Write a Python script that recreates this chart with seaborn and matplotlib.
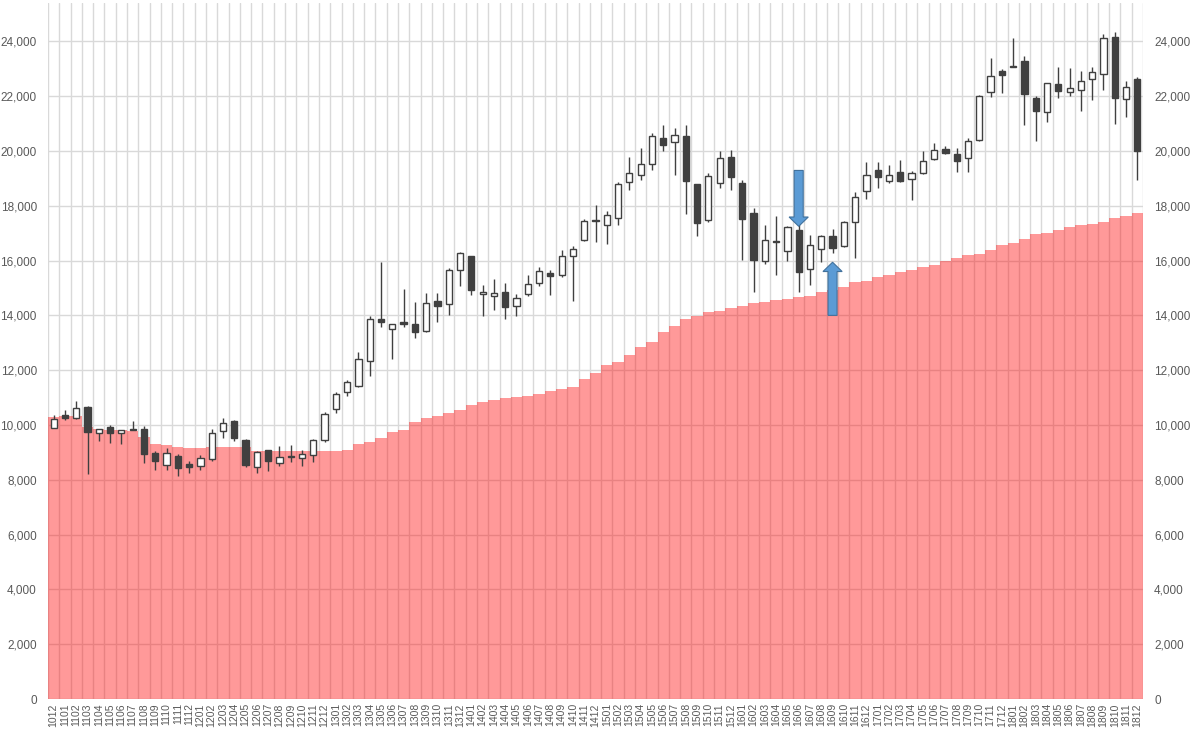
import matplotlib
matplotlib.use("Agg")
import matplotlib.pyplot as plt
import seaborn as sns
import pandas as pd
import numpy as np
from matplotlib.ticker import FixedLocator, FuncFormatter
from matplotlib.patches import FancyArrow

# ---------------- data ----------------
months = ["1012",
          "1101", "1102", "1103", "1104", "1105", "1106", "1107", "1108", "1109", "1110", "1111", "1112",
          "1201", "1202", "1203", "1204", "1205", "1206", "1207", "1208", "1209", "1210", "1211", "1212",
          "1301", "1302", "1303", "1304", "1305", "1306", "1307", "1308", "1309", "1310", "1311", "1312",
          "1401", "1402", "1403", "1404", "1405", "1406", "1407", "1408", "1409", "1410", "1411", "1412",
          "1501", "1502", "1503", "1504", "1505", "1506", "1507", "1508", "1509", "1510", "1511", "1512",
          "1601", "1602", "1603", "1604", "1605", "1606", "1607", "1608", "1609", "1610", "1611", "1612",
          "1701", "1702", "1703", "1704", "1705", "1706", "1707", "1708", "1709", "1710", "1711", "1712",
          "1801", "1802", "1803", "1804", "1805", "1806", "1807", "1808", "1809", "1810", "1811", "1812"]

opens = [9900,
         10350, 10240, 10670, 9710, 9940, 9690, 9870, 9870, 8990, 8540, 8860, 8560,
         8500, 8750, 9770, 10150, 9470, 8460, 9090, 8620, 8830, 8800, 8910, 9450,
         10600, 11190, 11430, 12350, 13860, 13520, 13750, 13670, 13430, 14520, 14400, 15660,
         16150, 14790, 14690, 14870, 14340, 14790, 15180, 15540, 15460, 16170, 16740, 17480,
         17300, 17540, 18880, 19119, 19530, 20460, 20310, 20550, 18790, 17490, 18830, 19790,
         18820, 17720, 16000, 16700, 16340, 17110, 15690, 16420, 16900, 16540, 17390, 18550,
         19300, 18910, 19240, 18990, 19180, 19700, 20070, 19900, 19750, 20400, 22150, 22910,
         23073, 23300, 21915, 21430, 22450, 22150, 22240, 22630, 22810, 24150, 21900, 22640]

highs = [10380,
         10560, 10880, 10700, 9870, 10010, 9830, 10140, 9980, 9050, 9150, 8930, 8700,
         8890, 9866, 10255, 10190, 9500, 9050, 9100, 9220, 9270, 9090, 9480, 10460,
         11200, 11640, 12650, 13990, 15942, 13700, 14953, 14470, 14820, 14810, 15730, 16320,
         16170, 15094, 15310, 15180, 14770, 15460, 15760, 15640, 16400, 16530, 17520, 18030,
         17820, 18880, 19778, 20100, 20650, 20953, 20850, 20946, 18800, 19180, 20012, 20043,
         18950, 17915, 17291, 17613, 17260, 17330, 16940, 16930, 17150, 17440, 18486, 19600,
         19615, 19500, 19668, 19280, 19990, 20300, 20190, 20120, 20460, 22060, 23383, 23000,
         24129, 23480, 22000, 22480, 23050, 23010, 22936, 23058, 24286, 24350, 22570, 22700]

lows = [9880,
        10170, 10220, 8227, 9400, 9350, 9320, 9800, 8620, 8360, 8340, 8135, 8260,
        8350, 8700, 9530, 9400, 8450, 8238, 8330, 8520, 8660, 8490, 8640, 9380,
        10430, 11040, 11400, 11805, 13560, 12415, 13590, 13190, 13400, 13750, 14030, 15090,
        14760, 13995, 14180, 13885, 13960, 14720, 15090, 14753, 15400, 14529, 16700, 16672,
        16592, 17300, 18580, 18936, 19290, 20010, 19115, 17714, 16901, 17390, 18640, 18584,
        16017, 14865, 15872, 15471, 15975, 14864, 15106, 15933, 16280, 16500, 16112, 18240,
        18650, 18830, 18880, 18224, 19150, 19680, 19900, 19240, 19250, 20350, 21970, 22100,
        23060, 20950, 20347, 21060, 21930, 22000, 21460, 21878, 22210, 20971, 21240, 18949]

closes = [10229,
          10238, 10624, 9755, 9850, 9694, 9816, 9833, 8955, 8700, 8988, 8435, 8455,
          8802, 9723, 10084, 9521, 8543, 9007, 8695, 8840, 8870, 8928, 9446, 10395,
          11139, 11559, 12398, 13861, 13775, 13677, 13668, 13389, 14456, 14328, 15662, 16291,
          14915, 14841, 14828, 14304, 14632, 15162, 15621, 15425, 16174, 16414, 17460, 17451,
          17674, 18798, 19207, 19520, 20563, 20236, 20585, 18890, 17388, 19083, 19747, 19034,
          17518, 16027, 16759, 16666, 17235, 15576, 16569, 16887, 16450, 17425, 18308, 19114,
          19041, 19119, 18909, 19197, 19651, 20033, 19925, 19646, 20356, 22012, 22725, 22765,
          23098, 22068, 21454, 22468, 22202, 22305, 22554, 22865, 24120, 21920, 22351, 20015]

level = [10290,
         10310, 10330, 9920, 9860, 9830, 9800, 9790, 9560, 9320, 9260, 9190, 9160,
         9160, 9180, 9200, 9200, 9180, 9050, 9050, 9040, 9040, 9040, 9045, 9050,
         9055, 9070, 9310, 9370, 9510, 9730, 9830, 10110, 10240, 10340, 10420, 10560,
         10740, 10840, 10905, 10990, 11030, 11075, 11130, 11230, 11300, 11390, 11665, 11880,
         12190, 12310, 12550, 12860, 13040, 13390, 13620, 13870, 13963, 14109, 14170, 14255,
         14352, 14449, 14498, 14550, 14595, 14656, 14717, 14838, 14936, 15021, 15203, 15264,
         15386, 15471, 15568, 15665, 15750, 15848, 15990, 16110, 16188, 16248, 16370, 16565,
         16650, 16796, 16954, 17015, 17112, 17233, 17282, 17318, 17416, 17537, 17622, 17720]

y_ticks = [0, 2000, 4000, 6000, 8000, 10000, 12000, 14000, 16000, 18000, 20000, 22000, 24000]

# annotation arrows: (month, tail value, tip value)
arrow_down = ("1606", 19290, 17250)
arrow_up = ("1609", 14000, 15940)

# ---------------- styling ----------------
sns.set_theme(style="white")
plt.rcParams['font.family'] = ['Liberation Sans', 'DejaVu Sans']

TXT = "#595959"
GRID = "#D9D9D9"
CANDLE_EDGE = "#404040"

fig = plt.figure(figsize=(12, 7.34), dpi=100)
ax = fig.add_axes([48 / 1200, 1 - 699 / 734, (1143 - 48) / 1200, (699 - 3) / 734])

df = pd.DataFrame({"month": months, "level": level})
sns.barplot(data=df, x="month", y="level", width=1.0, color=(1.0, 0.0, 0.0),
            alpha=0.40, saturation=1, linewidth=0, ax=ax, zorder=2)

xpos = np.arange(len(months))
o = np.array(opens, dtype=float)
h = np.array(highs, dtype=float)
l = np.array(lows, dtype=float)
c = np.array(closes, dtype=float)

ax.vlines(xpos, l, h, color=CANDLE_EDGE, linewidth=1.0, zorder=3)
body_bottom = np.minimum(o, c)
body_h = np.maximum(np.abs(c - o), 25)
face = ["white" if cc >= oo else CANDLE_EDGE for oo, cc in zip(o, c)]
ax.bar(xpos, body_h, bottom=body_bottom, width=0.55, color=face,
       edgecolor=CANDLE_EDGE, linewidth=1.0, zorder=4)

# arrows
for name, y0, y1 in (arrow_down, arrow_up):
    xi = months.index(name)
    ax.add_patch(FancyArrow(xi, y0, 0, y1 - y0, width=0.8, head_width=1.7,
                            head_length=340, length_includes_head=True,
                            facecolor="#5B9BD5", edgecolor="#41719C",
                            linewidth=0.8, zorder=6))

ax.set_xlim(-0.5, len(months) - 0.5)
ax.set_ylim(0, 25400)
ax.set_yticks(y_ticks)
fmt = FuncFormatter(lambda v, p: f"{v:,.0f}")
ax.yaxis.set_major_formatter(fmt)
ax.xaxis.set_minor_locator(FixedLocator(np.arange(-0.5, len(months), 1.0)))
ax.grid(which="minor", axis="x", color=GRID, linewidth=1.0, zorder=0)
ax.grid(which="major", axis="y", color=GRID, linewidth=1.0, zorder=0)
ax.set_axisbelow(True)
ax.set_xlabel("")
ax.set_ylabel("")
ax.set_xticks(xpos)
ax.set_xticklabels(months, rotation=90, fontsize=7.5, color=TXT)
ax.tick_params(axis="x", which="both", length=0, pad=3)
ax.tick_params(axis="y", length=0, labelsize=8.5, labelcolor=TXT, pad=8)
for s in ax.spines.values():
    s.set_visible(False)

ax2 = ax.twinx()
ax2.set_ylim(ax.get_ylim())
ax2.set_yticks(y_ticks)
ax2.yaxis.set_major_formatter(fmt)
ax2.tick_params(axis="y", length=0, labelsize=8.5, labelcolor=TXT, pad=8)
ax2.grid(False)
for s in ax2.spines.values():
    s.set_visible(False)

fig.savefig("out.png", dpi=100)
